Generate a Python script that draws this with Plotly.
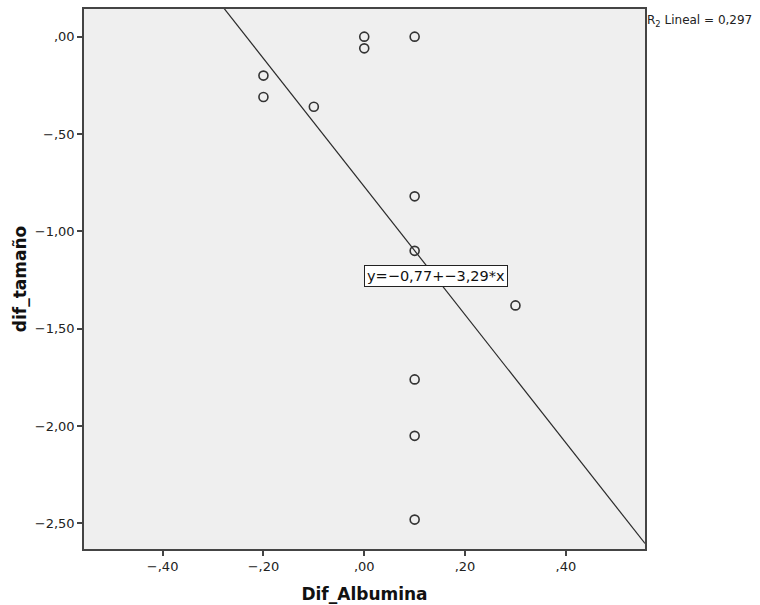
import plotly.graph_objects as go

# Data
dif_albumina = [0.0, 0.0, 0.1, -0.2, -0.2, -0.1, 0.1, 0.1, 0.3, 0.1, 0.1, 0.1]
dif_tamano = [0.0, -0.06, 0.0, -0.2, -0.31, -0.36, -0.82, -1.1, -1.38, -1.76, -2.05, -2.48]
intercept = -0.77
slope = -3.29
r2_label = "R<sub>2</sub> Lineal = 0,297"
eq_label = "y=\u22120,77+\u22123,29*x"

x_tickvals = [-0.4, -0.2, 0.0, 0.2, 0.4]
x_ticktext = ["\u2212,40", "\u2212,20", ",00", ",20", ",40"]
y_tickvals = [0.0, -0.5, -1.0, -1.5, -2.0, -2.5]
y_ticktext = [",00", "\u2212,50", "\u22121,00", "\u22121,50", "\u22122,00", "\u22122,50"]

x_range = [-0.556, 0.557]
y_range = [-2.631, 0.142]

line_x = [x_range[0], x_range[1]]
line_y = [intercept + slope * v for v in line_x]

fig = go.Figure()
fig.add_trace(go.Scatter(
    x=line_x, y=line_y, mode="lines",
    line=dict(color="#2a2a2a", width=1.2), hoverinfo="skip", showlegend=False,
))
fig.add_trace(go.Scatter(
    x=dif_albumina, y=dif_tamano, mode="markers",
    marker=dict(symbol="circle-open", size=9, color="#333333", line=dict(width=1.6, color="#333333")),
    showlegend=False,
))

fig.add_annotation(
    x=0.0, y=-1.23, xref="x", yref="y", text=eq_label, showarrow=False,
    xanchor="left", yanchor="middle",
    font=dict(family="DejaVu Sans", size=14.5, color="#111111"),
    bgcolor="white", bordercolor="#222222", borderwidth=1, borderpad=2,
)
fig.add_annotation(
    x=1.0, y=1.0, xref="paper", yref="paper", text=r2_label, showarrow=False,
    xanchor="left", yanchor="top", xshift=0, yshift=-2,
    font=dict(family="DejaVu Sans", size=12, color="#222222"),
)

axis_common = dict(
    showgrid=False, zeroline=False, showline=True, linecolor="#444444", linewidth=1.5,
    mirror=True, ticks="outside", ticklen=5, tickwidth=1.5, tickcolor="#444444",
    tickfont=dict(family="DejaVu Sans", size=13, color="#222222"),
    automargin=False,
)

fig.update_layout(
    width=760, height=605,
    margin=dict(l=84, r=115, t=9, b=56),
    paper_bgcolor="white", plot_bgcolor="#EFEFEF",
    xaxis=dict(range=x_range, tickvals=x_tickvals, ticktext=x_ticktext,
               title=dict(text="<b>Dif_Albumina</b>", font=dict(family="DejaVu Sans", size=17, color="#111111"), standoff=15),
               **axis_common),
    yaxis=dict(range=y_range, tickvals=y_tickvals, ticktext=y_ticktext,
               title=dict(text="<b>dif_tamaño</b>", font=dict(family="DejaVu Sans", size=17, color="#111111"), standoff=4),
               **axis_common),
)

fig.write_html("out.html", config={"displayModeBar": False},
               post_script="document.body.style.margin='0';document.body.style.overflow='hidden';")
